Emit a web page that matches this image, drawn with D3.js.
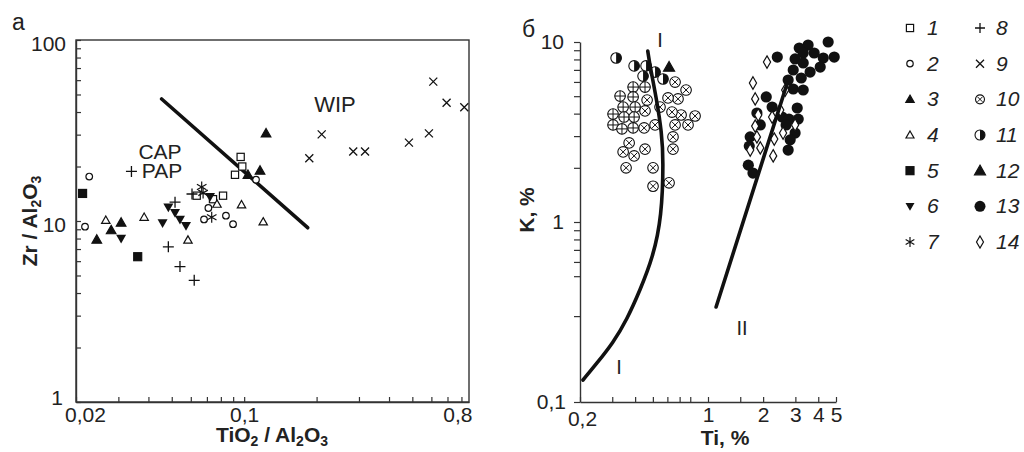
<!DOCTYPE html>
<html>
<head>
<meta charset="utf-8">
<script src="https://cdn.jsdelivr.net/npm/d3@7"></script>
<style>
  body { margin: 0; background: #fff; }
  svg { font-family: "Liberation Sans", Arial, sans-serif; }
</style>
</head>
<body>
<svg id="chart" width="1024" height="452"></svg>
<script>
// ---- panel a : TiO2/Al2O3 vs Zr/Al2O3 ----
const aSq = [[0.0967, 22.6], [0.0982, 20.0], [0.0916, 18.0], [0.0635, 13.8], [0.0742, 13.2], [0.0817, 13.8]];
const aCirc = [[0.0227, 17.6], [0.0218, 9.3], [0.112, 16.9], [0.071, 11.8], [0.0681, 10.2], [0.084, 10.7], [0.0899, 9.6]];
const aTri = [[0.0244, 7.9], [0.028, 8.9], [0.0308, 9.8], [0.1233, 30.5], [0.1164, 19.0], [0.1037, 18.0]];
const aTriOpen = [[0.0266, 10.1], [0.0384, 10.5], [0.0584, 7.85], [0.0771, 12.4], [0.0975, 12.3], [0.12, 9.9]];
const aSqFill = [[0.0213, 14.2], [0.0361, 6.35]];
const aTriDown = [[0.0484, 11.9], [0.0516, 11.1], [0.0541, 10.2], [0.0573, 9.4], [0.0458, 9.75], [0.0308, 8.0], [0.0721, 13.6]];
const aStar = [[0.0666, 15.4], [0.0675, 14.3], [0.0733, 10.5]];
const aPlus = [[0.034, 18.8], [0.0516, 12.7], [0.0607, 14.1], [0.0484, 7.2], [0.0541, 5.6], [0.062, 4.7]];
const aTimes = [[0.1865, 22.2], [0.21, 30.1], [0.284, 24.2], [0.318, 24.2], [0.484, 27.1], [0.586, 30.5], [0.611, 58.9], [0.694, 45.0], [0.822, 42.5]];
const aLine = [[0.0454, 47.2], [0.1836, 9.18]];

const aXTicks = [0.02, 0.03, 0.04, 0.05, 0.06, 0.07, 0.08, 0.09, 0.1, 0.2, 0.3, 0.4, 0.5, 0.6, 0.7, 0.8];
const aXLabels = { 0.02: "0,02", 0.1: "0,1", 0.8: "0,8" };
const aYTicks = [1, 2, 3, 4, 5, 6, 7, 8, 9, 10, 20, 30, 40, 50, 60, 70, 80, 90, 100];
const aYLabels = { 1: "1", 10: "10", 100: "100" };

// ---- panel б : Ti vs K ----
const bOplus = [[0.39, 5.62], [0.453, 5.62], [0.331, 5.01], [0.39, 4.95], [0.344, 4.35], [0.4, 4.35], [0.303, 3.98], [0.348, 3.83], [0.395, 3.83], [0.303, 3.46], [0.339, 3.29], [0.39, 3.33]];
const bOtimes = [[0.465, 4.76], [0.453, 4.14], [0.514, 3.46], [0.448, 3.33], [0.371, 2.75], [0.344, 2.45], [0.395, 2.33], [0.453, 2.54], [0.357, 2.0], [0.501, 2.0], [0.501, 1.58], [0.613, 1.65], [0.644, 2.54], [0.644, 2.97], [0.661, 3.46], [0.778, 3.46], [0.713, 3.93], [0.636, 4.08], [0.547, 4.35], [0.686, 4.83], [0.605, 4.89], [0.759, 5.41], [0.661, 5.99], [0.85, 3.88]];
const bHalf = [[0.315, 8.15], [0.395, 7.36], [0.459, 7.36], [0.442, 6.47], [0.514, 6.81], [0.568, 6.23]];
const bTri = [[0.613, 7.26]];
const bDot = [[4.53, 10.0], [3.52, 9.62], [3.15, 9.26], [2.39, 8.25], [3.8, 8.69], [3.31, 8.69], [2.99, 8.05], [4.26, 8.15], [4.89, 8.25], [3.31, 7.65], [3.61, 6.81], [4.1, 7.26], [2.92, 6.99], [3.23, 6.31], [2.74, 6.15], [2.92, 5.48], [3.31, 5.41], [2.08, 4.95], [2.24, 4.35], [3.07, 4.3], [2.54, 3.83], [2.77, 3.73], [3.11, 3.73], [1.85, 4.03], [1.93, 3.46], [2.67, 3.46], [2.99, 3.12], [1.7, 2.97], [1.68, 2.64], [2.81, 2.86], [2.74, 2.51], [1.66, 2.07], [1.76, 1.87]];
const bDiam = [[2.1, 7.74], [1.76, 5.92], [1.81, 4.83], [1.88, 3.93], [2.24, 3.83], [1.81, 3.41], [1.85, 2.97], [2.3, 2.89], [1.93, 2.58], [1.7, 2.51], [2.27, 2.33], [2.57, 3.12], [2.64, 5.41], [2.48, 4.19], [2.99, 3.46]];
const curveI = [[0.2077, 0.1325], [0.247, 0.164], [0.303, 0.213], [0.36, 0.286], [0.426, 0.419], [0.501, 0.639], [0.559, 1.07], [0.571, 2.21], [0.559, 3.12], [0.525, 4.76], [0.483, 7.3], [0.469, 8.9]];
const curveII = [[1.107, 0.337], [2.71, 5.92]];

const bXTicks = [0.2, 0.3, 0.4, 0.5, 0.6, 0.7, 0.8, 1, 1.5, 2, 3, 4, 5];
const bXLabels = { 0.2: "0,2", 1: "1", 2: "2", 3: "3", 4: "4", 5: "5" };
const bYTicks = [0.1, 0.3, 0.5, 0.6, 0.7, 0.8, 0.9, 1, 2, 3, 4, 5, 6, 7, 8, 9, 10];
const bYLabels = { 0.1: "0,1", 1: "1", 10: "10" };

// legend
const legendNames = ["1", "2", "3", "4", "5", "6", "7", "8", "9", "10", "11", "12", "13", "14"];
const legendTypes = ["sq", "circ", "tri", "triOpen", "sqFill", "triDown", "star", "plus", "times", "otimes", "half", "tri", "dot", "diam"];

const svg = d3.select("#chart");
const ink = "#111";

const xA = d3.scaleLog().domain([0.02, 0.86]).range([76, 469]);
const yA = d3.scaleLog().domain([1, 100]).range([402, 40]);
const xB = d3.scaleLog().domain([0.2, 5]).range([580, 836]);
const yB = d3.scaleLog().domain([0.1, 10]).range([402, 42]);

// marker painter
function drawMarker(g, type, r) {
    const sw = 1.2;
    if (type === "sq" || type === "sqFill") {
        g.append("rect").attr("x", -r).attr("y", -r).attr("width", 2 * r).attr("height", 2 * r)
            .attr("fill", type === "sq" ? "#fff" : ink).attr("stroke", ink).attr("stroke-width", sw);
    } else if (type === "circ") {
        g.append("circle").attr("r", r).attr("fill", "#fff").attr("stroke", ink).attr("stroke-width", sw);
    } else if (type === "dot") {
        g.append("circle").attr("r", r).attr("fill", ink);
    } else if (type === "tri" || type === "triOpen") {
        g.append("path").attr("d", `M0,${-r}L${r},${r * 0.75}L${-r},${r * 0.75}Z`)
            .attr("fill", type === "tri" ? ink : "#fff").attr("stroke", ink).attr("stroke-width", sw);
    } else if (type === "triDown") {
        g.append("path").attr("d", `M0,${r}L${r},${-r * 0.75}L${-r},${-r * 0.75}Z`).attr("fill", ink);
    } else if (type === "plus") {
        g.append("path").attr("d", `M${-r},0H${r}M0,${-r}V${r}`).attr("stroke", ink).attr("stroke-width", 1.3);
    } else if (type === "times") {
        g.append("path").attr("d", `M${-r},${-r}L${r},${r}M${-r},${r}L${r},${-r}`).attr("stroke", ink).attr("stroke-width", 1.3);
    } else if (type === "star") {
        const a = r * 0.87, b = r * 0.5;
        g.append("path").attr("d", `M0,${-r}V${r}M${-a},${-b}L${a},${b}M${-a},${b}L${a},${-b}`)
            .attr("stroke", ink).attr("stroke-width", 1.2);
    } else if (type === "otimes" || type === "oplus") {
        g.append("circle").attr("r", r).attr("fill", "#fff").attr("stroke", ink).attr("stroke-width", 1.1);
        const k = type === "otimes" ? r * 0.55 : r;
        const d = type === "otimes"
            ? `M${-k},${-k}L${k},${k}M${-k},${k}L${k},${-k}`
            : `M${-k},0H${k}M0,${-k}V${k}`;
        g.append("path").attr("d", d).attr("stroke", ink).attr("stroke-width", 1);
    } else if (type === "half") {
        g.append("circle").attr("r", r).attr("fill", "#fff").attr("stroke", ink).attr("stroke-width", 1.1);
        g.append("path").attr("d", `M0,${-r}A${r},${r} 0 0 1 0,${r}Z`).attr("fill", ink);
    } else if (type === "diam") {
        g.append("path").attr("d", `M0,${-r}L${r * 0.58},0L0,${r}L${-r * 0.58},0Z`)
            .attr("fill", "#fff").attr("stroke", ink).attr("stroke-width", 1.2);
    }
}

function plotPoints(data, x, y, type, r) {
    svg.append("g").selectAll("g").data(data).join("g")
        .attr("transform", d => `translate(${x(d[0])},${y(d[1])})`)
        .each(function () { drawMarker(d3.select(this), type, r); });
}

// ---- AXES ----
function styleAxis(g) {
    g.select(".domain").attr("stroke", "#333").attr("stroke-width", 1.4);
    g.selectAll(".tick line").attr("stroke", "#333").attr("stroke-width", 1.2);
    g.selectAll("text").attr("font-size", 21).attr("fill", "#222")
        .attr("font-family", "Liberation Sans, Arial, sans-serif");
}

// panel a frame
svg.append("rect").attr("x", 76).attr("y", 40).attr("width", 393).attr("height", 362)
    .attr("fill", "none").attr("stroke", "#333").attr("stroke-width", 1.4);

const axA_x = svg.append("g").attr("transform", "translate(0,402)")
    .call(d3.axisBottom(xA).tickValues(aXTicks).tickSize(-5).tickSizeOuter(0).tickPadding(5)
        .tickFormat(d => aXLabels[d] || ""))
    .call(styleAxis);
axA_x.selectAll(".tick text").filter(d => d === 0.02).attr("dx", 9);
axA_x.selectAll(".tick text").filter(d => d === 0.8).attr("dx", -4);

const axA_y = svg.append("g").attr("transform", "translate(76,0)")
    .call(d3.axisLeft(yA).tickValues(aYTicks).tickSize(-5).tickSizeOuter(0).tickPadding(10)
        .tickFormat(d => aYLabels[d] || ""))
    .call(styleAxis);
axA_y.selectAll(".tick text").attr("dy", "0.5em");
axA_y.selectAll(".tick text").filter(d => d === 1).attr("dy", "0.1em").attr("dx", -3);

// panel б axes
const axB_x = svg.append("g").attr("transform", "translate(0,402)")
    .call(d3.axisBottom(xB).tickValues(bXTicks).tickSize(-5).tickSizeOuter(0).tickPadding(5)
        .tickFormat(d => bXLabels[d] || ""))
    .call(styleAxis);
axB_x.selectAll(".tick text").filter(d => d === 0.2).attr("dx", 2).attr("dy", "0.9em");

const axB_y = svg.append("g").attr("transform", "translate(580,0)")
    .call(d3.axisLeft(yB).tickValues(bYTicks).tickSize(6).tickSizeOuter(0).tickPadding(10)
        .tickFormat(d => bYLabels[d] || ""))
    .call(styleAxis);
axB_y.selectAll(".tick text").filter(d => d === 0.1).attr("dx", 2);

// ---- LINES ----
svg.append("path").datum(aLine)
    .attr("d", d3.line().x(d => xA(d[0])).y(d => yA(d[1])))
    .attr("fill", "none").attr("stroke", ink).attr("stroke-width", 3.6).attr("stroke-linecap", "round");

// ---- POINTS panel a ----
plotPoints(aSq, xA, yA, "sq", 3.6);
plotPoints(aCirc, xA, yA, "circ", 3.3);
plotPoints(aTri, xA, yA, "tri", 4.8);
plotPoints(aTriOpen, xA, yA, "triOpen", 4.2);
plotPoints(aSqFill, xA, yA, "sqFill", 4);
plotPoints(aTriDown, xA, yA, "triDown", 5);
plotPoints(aStar, xA, yA, "star", 5.5);
plotPoints(aPlus, xA, yA, "plus", 5.5);
plotPoints(aTimes, xA, yA, "times", 4);

// ---- POINTS panel б ----
plotPoints(bOtimes, xB, yB, "otimes", 5.3);
plotPoints(bOplus, xB, yB, "oplus", 5.3);
plotPoints(bHalf, xB, yB, "half", 5.3);
plotPoints(bTri, xB, yB, "tri", 5.5);
plotPoints(bDot, xB, yB, "dot", 5.6);
plotPoints(bDiam, xB, yB, "diam", 6.2);

svg.append("path").datum(curveI)
    .attr("d", d3.line().x(d => xB(d[0])).y(d => yB(d[1])).curve(d3.curveBasis))
    .attr("fill", "none").attr("stroke", ink).attr("stroke-width", 3.6).attr("stroke-linecap", "round");
svg.append("path").datum(curveII)
    .attr("d", d3.line().x(d => xB(d[0])).y(d => yB(d[1])))
    .attr("fill", "none").attr("stroke", ink).attr("stroke-width", 3.6).attr("stroke-linecap", "round");

// ---- TEXT ----
function txt(x, y, s, size, extra) {
    const t = svg.append("text").attr("x", x).attr("y", y).attr("font-size", size).attr("fill", "#222").text(s);
    if (extra) extra(t);
    return t;
}
txt(12, 30, "a", 23);
txt(522, 37, "б", 23);
txt(160, 159, "CAP", 21, t => t.attr("text-anchor", "middle"));
txt(162, 178, "PAP", 21, t => t.attr("text-anchor", "middle"));
txt(335, 112, "WIP", 22, t => t.attr("text-anchor", "middle"));
txt(660, 47, "I", 20, t => t.attr("text-anchor", "middle"));
txt(619, 374, "I", 20, t => t.attr("text-anchor", "middle"));
txt(742, 335, "II", 20, t => t.attr("text-anchor", "middle"));

// axis titles with subscripts
function subTitle(t, parts) {
    parts.forEach(p => {
        if (p[1]) {
            t.append("tspan").attr("font-size", 14).attr("dy", 4).text(p[0]);
        } else {
            t.append("tspan").attr("dy", p[2] || 0).text(p[0]);
        }
    });
}
const tx = svg.append("text").attr("x", 272).attr("y", 442).attr("text-anchor", "middle")
    .attr("font-size", 21).attr("font-weight", "bold").attr("fill", "#222");
subTitle(tx, [["TiO"], ["2", 1], [" / Al", 0, -4], ["2", 1], ["O", 0, -4], ["3", 1]]);

const ty = svg.append("text").attr("transform", "translate(37,221) rotate(-90)").attr("text-anchor", "middle")
    .attr("font-size", 21).attr("font-weight", "bold").attr("fill", "#222");
subTitle(ty, [["Zr / Al"], ["2", 1], ["O", 0, -4], ["3", 1]]);

svg.append("text").attr("x", 725).attr("y", 445).attr("text-anchor", "middle")
    .attr("font-size", 21).attr("font-weight", "bold").attr("fill", "#222").text("Ti, %");
svg.append("text").attr("transform", "translate(534,210) rotate(-90)").attr("text-anchor", "middle")
    .attr("font-size", 21).attr("font-weight", "bold").attr("fill", "#222").text("K, %");

// ---- LEGEND ----
const legRow = d3.scalePoint().domain(d3.range(7)).range([28, 242]);
const leg = svg.append("g").selectAll("g").data(legendNames).join("g")
    .attr("transform", (d, i) => `translate(${i < 7 ? 910 : 980},${legRow(i % 7)})`);
leg.each(function (d, i) {
    const t = legendTypes[i];
    const r = { sq: 3.6, circ: 3.2, tri: i === 11 ? 5.5 : 4.2, triOpen: 4, sqFill: 4, triDown: 4.5, star: 5, plus: 5, times: 4,
        otimes: 4.5, half: 5, dot: 5.5, diam: 6 }[t];
    drawMarker(d3.select(this), t, r);
});
leg.append("text").attr("x", (d, i) => i < 7 ? 17 : 16).attr("y", 7)
    .attr("font-size", 21).attr("font-style", "italic").attr("fill", "#222").text(d => d);
</script>
</body>
</html>
